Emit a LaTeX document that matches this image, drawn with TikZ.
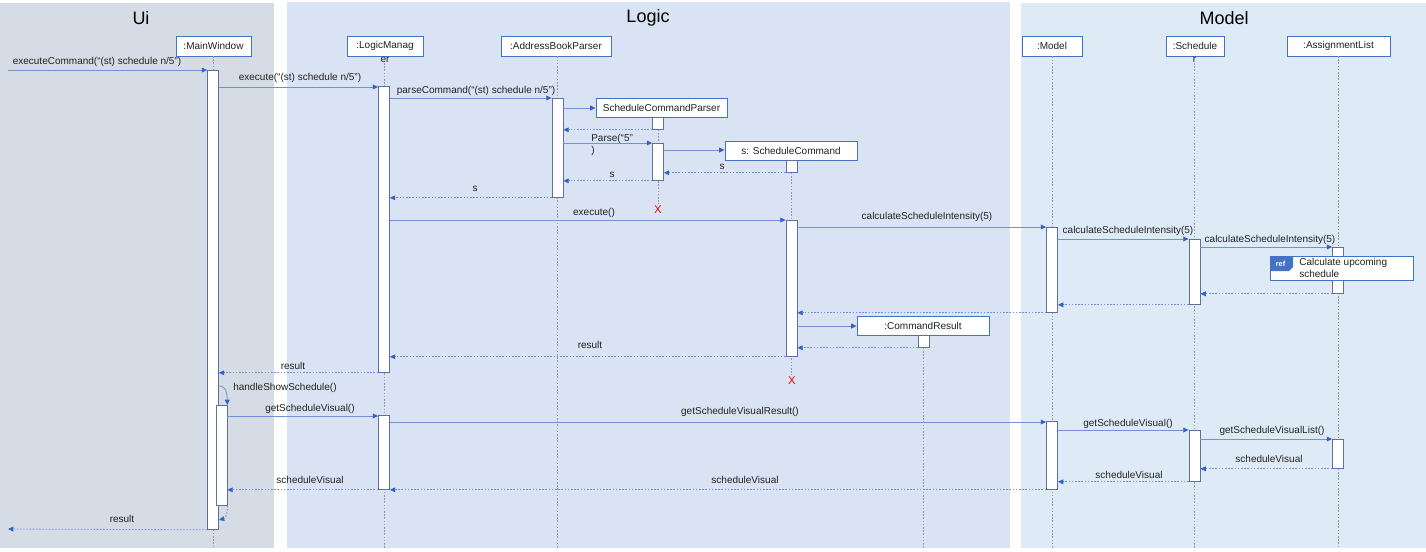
\documentclass[tikz,border=0pt]{standalone}
\usepackage{fontspec}
\setmainfont{Liberation Sans}
\usetikzlibrary{arrows.meta,calc}
\definecolor{uibg}{RGB}{214,220,229}
\definecolor{logicbg}{RGB}{218,227,243}
\definecolor{modelbg}{RGB}{222,235,247}
\definecolor{headblue}{RGB}{68,114,196}
\definecolor{barline}{RGB}{96,112,156}
\definecolor{msgline}{RGB}{112,146,208}
\definecolor{tipblue}{RGB}{52,98,196}
\definecolor{lifegray}{RGB}{150,152,165}
\definecolor{txt}{RGB}{34,34,34}
% activation bar: name, x, top y, bottom y (pixel units)
\newcommand\actbar[4]{\node[actbar, minimum height={(#4-#3)*0.75pt}] (#1) at (#2,#3) {};}
\begin{document}
\begin{tikzpicture}[x=0.75pt,y=-0.75pt,
  every node/.style={font=\fontsize{7.5}{9}\selectfont, text=txt},
  boxwh/.style 2 args={minimum width={#1*0.75pt}, minimum height={#2*0.75pt}},
  lifehead/.style={draw=headblue, fill=white, line width=0.7pt, inner sep=0pt},
  actbar/.style={draw=barline, fill=white, line width=0.6pt, inner sep=0pt, minimum width=8.25pt, anchor=north},
  lifeline/.style={draw=lifegray, line width=0.4pt, dash pattern=on 1.2pt off 1.2pt},
  msg/.style={draw=msgline, line width=0.6pt, -{Triangle[length=4pt,width=3.6pt,color=tipblue]}},
  ret/.style={draw=msgline, line width=0.6pt, dash pattern=on 1.2pt off 1.2pt, -{Triangle[length=4pt,width=3.6pt,color=tipblue]}},
  lbl/.style={inner sep=0pt},
  title/.style={font=\fontsize{13.5}{15}\selectfont, text=black},
  destroy/.style={text=red, font=\fontsize{8.5}{10}\selectfont, inner sep=0pt}
]
\useasboundingbox (0,0) rectangle (1426,551);
\fill[white] (0,0) rectangle (1426,551);

% layer panels
\fill[uibg] (0,3) rectangle (274,548);
\fill[logicbg] (287,2) rectangle (1010,548);
\fill[modelbg] (1021,3) rectangle (1426,548);
\node[title] (tui) at (141,18) {Ui};
\node[title] (tlogic) at (648,18) {Logic};
\node[title] (tmodel) at (1224,18) {Model};

% lifeline heads
\node[lifehead, boxwh={75}{20}] (mw) at (213.5,46) {:MainWindow};
\node[lifehead, boxwh={76}{20}] (lm) at (385,46) {:LogicManag};
\node[lbl] (lmwrap) at (385,60) {er};
\node[lifehead, boxwh={110}{20}] (abp) at (556,46) {:AddressBookParser};
\node[lifehead, boxwh={60}{20}] (md) at (1052,46) {:Model};
\node[lifehead, boxwh={58}{20}] (sch) at (1195,46) {:Schedule};
\node[lbl] (schwrap) at (1194.5,60) {r};
\node[lifehead, boxwh={103}{20}] (al) at (1338.5,46) {:AssignmentList};

% lifelines
\draw[lifeline] (213,56) -- (213,548);
\draw[lifeline] (lmwrap.south -| 384,0) -- (384,548);
\draw[lifeline] (abp.south -| 557,0) -- (557,548);
\draw[lifeline] (658,117) -- (658,204);
\draw[lifeline] (791.5,160) -- (791.5,375);
\draw[lifeline] (923,335) -- (923,548);
\draw[lifeline] (md.south) -- (md.south |- 0,548);
\draw[lifeline] (schwrap.south) -- (schwrap.south |- 0,548);
\draw[lifeline] (1338,56) -- (1338,548);

% created objects
\node[lifehead, boxwh={131}{19}] (scp) at (661.5,107.5) {ScheduleCommandParser};
\node[lifehead, boxwh={132}{19}] (sc) at (791,150.5) {s: ScheduleCommand};
\node[lifehead, boxwh={132}{19}] (cr) at (923,325.5) {:CommandResult};

% activation bars
\actbar{mwA}{213}{70}{529}
\actbar{mwB}{221.5}{405}{505}
\actbar{lmA}{384}{86}{372}
\actbar{lmB}{384}{415}{489}
\actbar{abpA}{557.5}{98}{197}
\actbar{scpA}{658}{117}{129}
\actbar{scpB}{658}{143}{180}
\actbar{scA}{791.5}{160}{172}
\actbar{scB}{791.5}{220}{356}
\actbar{crA}{923.5}{335}{347}
\actbar{mA}{1052}{227}{312}
\actbar{mB}{1052}{421}{489}
\actbar{sA}{1194.5}{239}{304}
\actbar{sB}{1194.5}{430}{481}
\actbar{alA}{1338}{247}{293}
\actbar{alB}{1338}{439}{468}

\coordinate (src) at (8,70);
\coordinate (snk) at (8,529);

% parsing the command
\draw[msg] (src) -- (mwA.west |- src);
\node[lbl] (l1) at (97,62) {executeCommand(“(st) schedule n/5”)};
\draw[msg] (mwA.east |- 0,87) -- (lmA.west |- 0,87);
\node[lbl] (l2) at (300,78) {execute(“(st) schedule n/5”)};
\draw[msg] (lmA.east |- 0,98) -- (abpA.west |- 0,98);
\node[lbl] (l3) at (476,91) {parseCommand(“(st) schedule n/5”)};
\draw[msg] (abpA.east |- 0,108) -- (scp.west |- 0,108);
\draw[ret] (scpA.south west) -- (abpA.east |- scpA.south);
\draw[msg] (abpA.east |- 0,143) -- (scpB.west |- 0,143);
\node[lbl, anchor=west, align=left] (l4) at (591,144.5) {Parse(“5”\\)};
\draw[msg] (scpB.east |- 0,150) -- (sc.west |- 0,150);
\draw[ret] (scA.south west) -- (scpB.east |- scA.south);
\node[lbl] (l5) at (722,167) {s};
\draw[ret] (scpB.south west) -- (abpA.east |- scpB.south);
\node[lbl] (l6) at (612,175) {s};
\draw[ret] (abpA.south west) -- (lmA.east |- abpA.south);
\node[lbl] (l7) at (475,189) {s};
\node[destroy] (x1) at (658,210) {X};

% executing the command
\draw[msg] (lmA.east |- 0,220) -- (scB.west |- 0,220);
\node[lbl] (l8) at (594,213) {execute()};
\draw[msg] (scB.east |- 0,227) -- (mA.west |- 0,227);
\node[lbl] (l9) at (927,217) {calculateScheduleIntensity(5)};
\draw[msg] (mA.east |- 0,239) -- (sA.west |- 0,239);
\node[lbl] (l10) at (1128,231) {calculateScheduleIntensity(5)};
\draw[msg] (sA.east |- 0,247) -- (alA.west |- 0,247);
\node[lbl] (l11) at (1270,240) {calculateScheduleIntensity(5)};

% interaction reference
\node[draw=headblue, fill=white, line width=0.6pt, inner sep=0pt, boxwh={143}{24}, anchor=north west] (refbox) at (1270,256) {};
\fill[headblue] (refbox.north west) -- ++(23,0) -- ++(0,11) -- ++(-4,4) -- (refbox.north west |- 0,271) -- cycle;
\node[lbl, text=white, font=\bfseries\fontsize{5.5}{6}\selectfont] (reftag) at (1280.5,263.5) {ref};
\node[lbl, anchor=north west, align=left, font=\fontsize{7.5}{9.3}\selectfont] (reftext) at (1299,257.5) {Calculate upcoming\\schedule};

\draw[ret] (alA.south west) -- (sA.east |- alA.south);
\draw[ret] (sA.south west) -- (mA.east |- sA.south);
\draw[ret] (mA.south west) -- (scB.east |- mA.south);
\draw[msg] (scB.east |- 0,326) -- (cr.west |- 0,326);
\draw[ret] (crA.south west) -- (scB.east |- crA.south);
\draw[ret] (scB.south west) -- (lmA.east |- scB.south);
\node[lbl] (l12) at (590,345) {result};
\node[destroy] (x2) at (792,381) {X};
\draw[ret] (lmA.south west) -- (mwA.east |- lmA.south);
\node[lbl] (l13) at (293,366) {result};

% showing the schedule
\draw[msg] (mwA.east |- 0,386) .. controls (226,386) and (227,392) .. (mwB.north east);
\node[lbl, anchor=west] (l14) at (233,388) {handleShowSchedule()};
\draw[msg] (mwB.east |- 0,416) -- (lmB.west |- 0,416);
\node[lbl] (l15) at (310,409) {getScheduleVisual()};
\draw[msg] (lmB.east |- 0,422) -- (mB.west |- 0,422);
\node[lbl] (l16) at (740,412) {getScheduleVisualResult()};
\draw[msg] (mB.east |- 0,430) -- (sB.west |- 0,430);
\node[lbl] (l17) at (1128,424) {getScheduleVisual()};
\draw[msg] (sB.east |- 0,439) -- (alB.west |- 0,439);
\node[lbl] (l18) at (1272,431) {getScheduleVisualList()};
\draw[ret] (alB.south west) -- (sB.east |- alB.south);
\node[lbl] (l19) at (1269,459) {scheduleVisual};
\draw[ret] (sB.south west) -- (mB.east |- sB.south);
\node[lbl] (l20) at (1129,475) {scheduleVisual};
\draw[ret] (mB.south west) -- (lmB.east |- mB.south);
\node[lbl] (l21) at (745,480) {scheduleVisual};
\draw[ret] (lmB.south west) -- (mwB.east |- lmB.south);
\node[lbl] (l22) at (310,480) {scheduleVisual};
\draw[ret] (mwB.south east) .. controls (228,512) and (226,518) .. (mwA.east |- 0,520);
\draw[ret] (mwA.south west) -- (snk);
\node[lbl] (l23) at (122,519) {result};
\end{tikzpicture}
\end{document}
